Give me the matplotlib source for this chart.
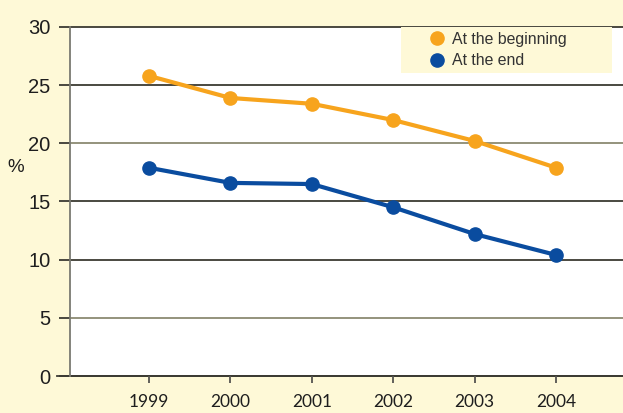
import matplotlib
matplotlib.use("Agg")
import matplotlib.pyplot as plt
from matplotlib.lines import Line2D

# data
years = [1999, 2000, 2001, 2002, 2003, 2004]
at_beginning = [25.8, 23.9, 23.4, 22.0, 20.2, 17.9]
at_end = [17.9, 16.6, 16.5, 14.5, 12.2, 10.4]
y_ticks = [0, 5, 10, 15, 20, 25, 30]
series_names = ["At the beginning", "At the end"]

bg = "#fef9d7"
orange = "#f7a41d"
blue = "#0a4c9f"
dark_grid = "#3b3a32"
olive_grid = "#8b8a72"

fig = plt.figure(figsize=(6.23, 4.13), dpi=100, facecolor=bg)
ax = fig.add_axes([70 / 623, 1 - 376 / 413, 1 - 70 / 623, 349 / 413])
ax.set_facecolor("white")

ax.set_xlim(1998.03, 2004.82)
ax.set_ylim(0, 30)

# horizontal grid lines, two shades as in the original
for v in y_ticks:
    col = olive_grid if v in (5, 20) else dark_grid
    ax.axhline(v, color=col, lw=1.3, zorder=1, clip_on=False)

ax.plot(years, at_beginning, color=orange, lw=3, marker="o", ms=9.5, zorder=3, clip_on=False)
ax.plot(years, at_end, color=blue, lw=3, marker="o", ms=9.5, zorder=3, clip_on=False)

for s in ["top", "right", "bottom"]:
    ax.spines[s].set_visible(False)
ax.spines["left"].set_color("#7a7a72")
ax.spines["left"].set_linewidth(1.3)

ax.set_yticks(y_ticks)
ax.set_yticklabels([str(v) for v in y_ticks], fontsize=14.5, family="Liberation Sans", color="#1e1e1e")
ax.tick_params(axis="y", length=8, width=1.3, color=dark_grid, pad=6)

ax.set_xticks(years)
ax.set_xticklabels([str(y) for y in years], fontsize=12.5, family="Lato", color="#1e1e1e")
ax.tick_params(axis="x", length=5, width=1.3, color="#555550", pad=8, direction="out")

# bottom axis line that runs a bit past the left spine
ax.plot([1998.03 - 13 / 81.5, 2004.82], [0, 0], color=dark_grid, lw=1.3, clip_on=False, zorder=1)

fig.text(16 / 623, 1 - 168 / 413, "%", fontsize=13.5, family="Liberation Sans",
         color="#1e1e1e", ha="center", va="center")

handles = [Line2D([], [], color=orange, marker="o", ls="none", ms=9.5),
           Line2D([], [], color=blue, marker="o", ls="none", ms=9.5)]
leg_ax = fig.add_axes([401 / 623, 1 - 73 / 413, 211 / 623, 46 / 413])
leg_ax.set_facecolor(bg)
leg_ax.set_xticks([])
leg_ax.set_yticks([])
for s in leg_ax.spines.values():
    s.set_visible(False)
leg_ax.legend(handles, series_names, loc="center left", frameon=False,
              prop={"family": "Liberation Sans", "size": 11.4}, handletextpad=0.3,
              borderaxespad=1.3, labelspacing=0.4, labelcolor="#333333",
              handlelength=1.2)

fig.savefig("out.png", dpi=100, facecolor=bg)
